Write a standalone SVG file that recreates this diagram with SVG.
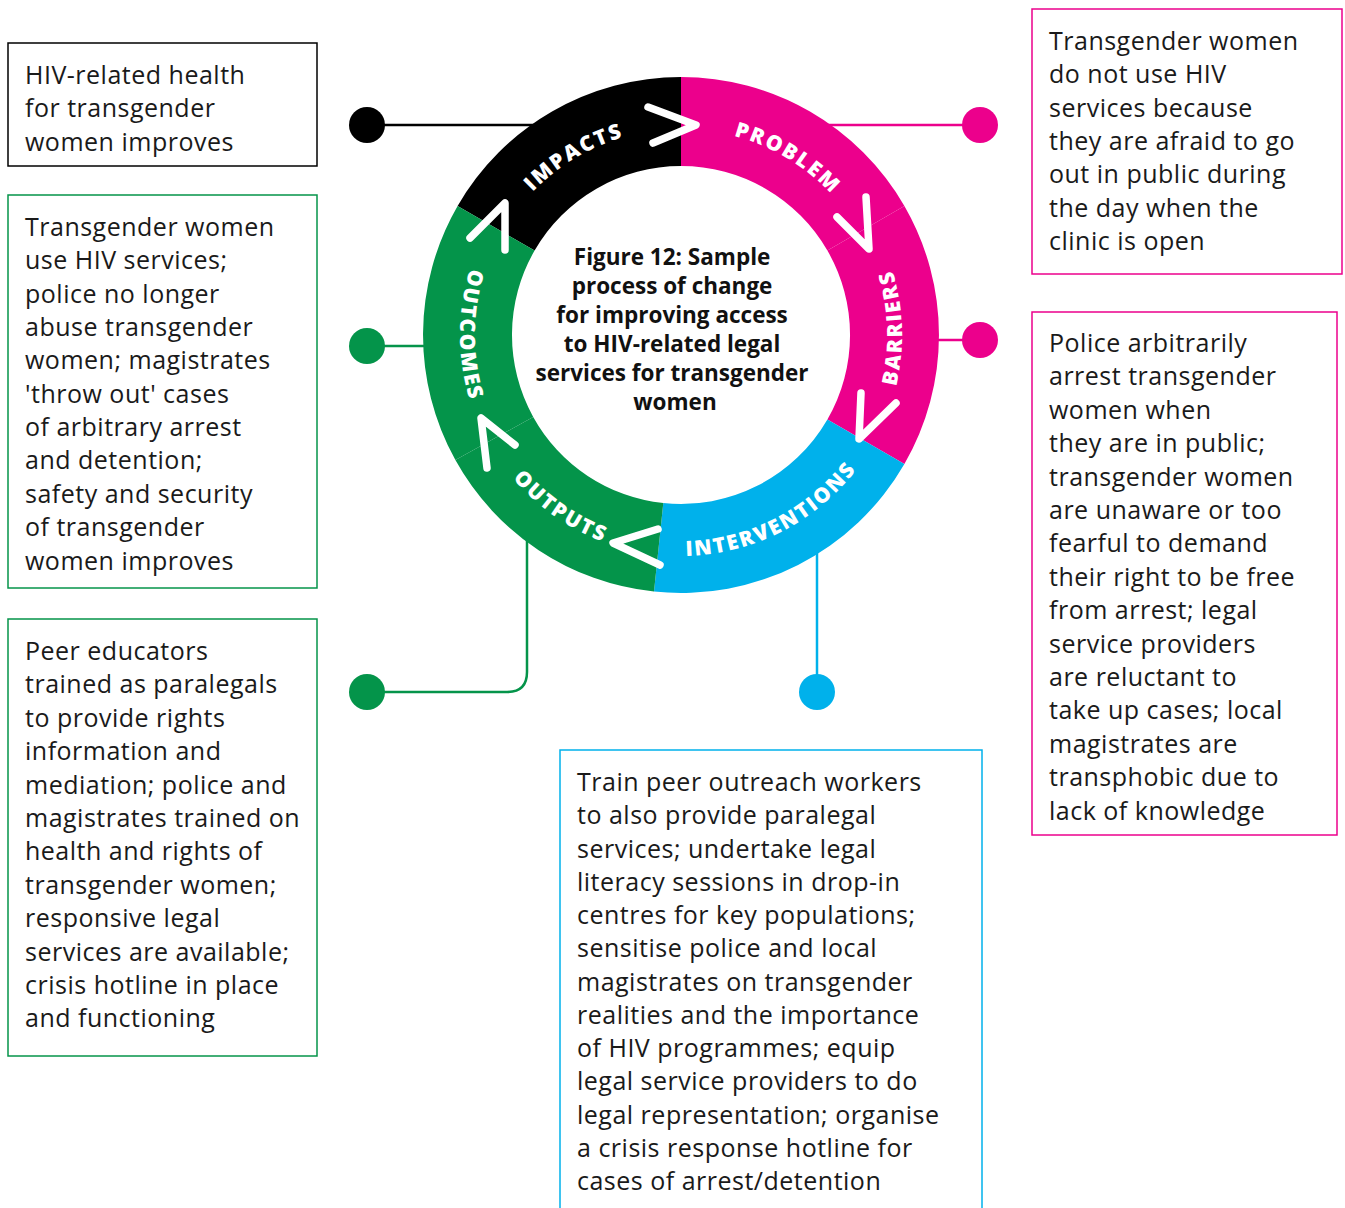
<svg xmlns="http://www.w3.org/2000/svg" width="1345" height="1208" viewBox="0 0 1345 1208">
<style>
.body{font-family:"Open Sans","Liberation Sans",sans-serif;font-size:25px;letter-spacing:0.5px;fill:#1a1a1a}
.title{font-family:"Open Sans","Liberation Sans",sans-serif;font-size:22.5px;font-weight:700;fill:#111;text-anchor:middle}
.lbl{font-family:"Open Sans","Liberation Sans",sans-serif;font-size:21px;font-weight:800;fill:#fff;letter-spacing:2px;text-anchor:middle}
.box{fill:#fff;stroke-width:1.5}
.chev{fill:none;stroke:#fff;stroke-width:7.5;stroke-linecap:round;stroke-linejoin:round}
.conn{fill:none;stroke-width:2.5}
</style>
<defs>
<path id="pImp" d="M486.2,267.9 A206,206 0 0 1 713.2,131.5"/>
<path id="pProb" d="M648.8,131.5 A206,206 0 0 1 875.8,267.9"/>
<path id="pBar" d="M855.2,471.1 A221,221 0 0 0 845.2,187.1"/>
<path id="pInt" d="M631.3,550.3 A221,221 0 0 0 884.4,421.3"/>
<path id="pOutp" d="M467.5,392.2 A221,221 0 0 0 700.3,555.2"/>
<path id="pOutc" d="M511.7,192.9 A221,221 0 0 0 511.7,477.1"/>
</defs>
<rect width="1345" height="1208" fill="#fff"/>

<g id="connectors">
<line class="conn" x1="367" y1="125" x2="560" y2="125" stroke="#000"/>
<circle cx="367" cy="125" r="18" fill="#000"/>
<line class="conn" x1="800" y1="125" x2="980" y2="125" stroke="#EC008C"/>
<circle cx="980" cy="125" r="18" fill="#EC008C"/>
<line class="conn" x1="900" y1="340" x2="980" y2="340" stroke="#EC008C"/>
<circle cx="980" cy="340" r="18" fill="#EC008C"/>
<line class="conn" x1="367" y1="346" x2="460" y2="346" stroke="#04944A"/>
<circle cx="367" cy="346" r="18" fill="#04944A"/>
<path class="conn" d="M367,692 H507 Q527,692 527,672 V520" stroke="#04944A"/>
<circle cx="367" cy="692" r="18" fill="#04944A"/>
<path class="conn" d="M817,500 V692" stroke="#00B1EB"/>
<circle cx="817" cy="692" r="18" fill="#00B1EB"/>
</g>

<g id="ring">
<path id="seg-impacts" fill="#000" d="M457.6,206.0 A258,258 0 0 1 681,77 L681,166 A169,169 0 0 0 534.6,250.5 Z"/>
<path id="seg-problem" fill="#EC008C" d="M681,77 A258,258 0 0 1 904.4,206.0 L827.4,250.5 A169,169 0 0 0 681,166 Z"/>
<path id="seg-barriers" fill="#EC008C" d="M904.4,206.0 A258,258 0 0 1 904.4,464.0 L827.4,419.5 A169,169 0 0 0 827.4,250.5 Z"/>
<path id="seg-interventions" fill="#00B1EB" d="M904.4,464.0 A258,258 0 0 1 654.0,591.6 L663.3,503.1 A169,169 0 0 0 827.4,419.5 Z"/>
<path id="seg-outputs" fill="#04944A" d="M654.0,591.6 A258,258 0 0 1 455.4,460.1 L533.2,416.9 A169,169 0 0 0 663.3,503.1 Z"/>
<path id="seg-outcomes" fill="#04944A" d="M455.4,460.1 A258,258 0 0 1 457.6,206.0 L534.6,250.5 A169,169 0 0 0 533.2,416.9 Z"/>
<text class="lbl"><textPath href="#pImp" startOffset="50%">IMPACTS</textPath></text>
<text class="lbl"><textPath href="#pProb" startOffset="50%">PROBLEM</textPath></text>
<text class="lbl"><textPath href="#pBar" startOffset="50%">BARRIERS</textPath></text>
<text class="lbl"><textPath href="#pInt" startOffset="50%">INTERVENTIONS</textPath></text>
<text class="lbl"><textPath href="#pOutp" startOffset="50%">OUTPUTS</textPath></text>
<text class="lbl"><textPath href="#pOutc" startOffset="50%">OUTCOMES</textPath></text>
<polyline class="chev" points="648,107 696,125 653,143"/>
<polyline class="chev" points="866,197 869,249 837,217"/>
<polyline class="chev" points="861,393 859,439 896,403"/>
<polyline class="chev" points="658,529 613,543 660,565"/>
<polyline class="chev" points="515,445 481,418 487,468"/>
<polyline class="chev" points="470,238 505,203 505,250"/>
</g>

<g id="title">
<text class="title" x="675">
<tspan x="675" y="265">Figure 12: Sample</tspan>
<tspan x="675" y="294">process of change</tspan>
<tspan x="675" y="323">for improving access</tspan>
<tspan x="675" y="352">to HIV-related legal</tspan>
<tspan x="675" y="381">services for transgender</tspan>
<tspan x="675" y="410">women</tspan>
</text>
</g>

<g id="node-impacts">
<rect class="box" x="8" y="43" width="309" height="123" stroke="#000"/>
<text class="body"><tspan x="25" y="84">HIV-related health</tspan><tspan x="25" dy="33.4">for transgender</tspan><tspan x="25" dy="33.4">women improves</tspan></text>
</g>

<g id="node-outcomes">
<rect class="box" x="8" y="195" width="309" height="393" stroke="#04944A"/>
<text class="body"><tspan x="25" y="236">Transgender women</tspan><tspan x="25" dy="33.35">use HIV services;</tspan><tspan x="25" dy="33.35">police no longer</tspan><tspan x="25" dy="33.35">abuse transgender</tspan><tspan x="25" dy="33.35">women; magistrates</tspan><tspan x="25" dy="33.35">'throw out' cases</tspan><tspan x="25" dy="33.35">of arbitrary arrest</tspan><tspan x="25" dy="33.35">and detention;</tspan><tspan x="25" dy="33.35">safety and security</tspan><tspan x="25" dy="33.35">of transgender</tspan><tspan x="25" dy="33.35">women improves</tspan></text>
</g>

<g id="node-outputs">
<rect class="box" x="8" y="619" width="309" height="437" stroke="#04944A"/>
<text class="body"><tspan x="25" y="660">Peer educators</tspan><tspan x="25" dy="33.4">trained as paralegals</tspan><tspan x="25" dy="33.4">to provide rights</tspan><tspan x="25" dy="33.4">information and</tspan><tspan x="25" dy="33.4">mediation; police and</tspan><tspan x="25" dy="33.4">magistrates trained on</tspan><tspan x="25" dy="33.4">health and rights of</tspan><tspan x="25" dy="33.4">transgender women;</tspan><tspan x="25" dy="33.4">responsive legal</tspan><tspan x="25" dy="33.4">services are available;</tspan><tspan x="25" dy="33.4">crisis hotline in place</tspan><tspan x="25" dy="33.4">and functioning</tspan></text>
</g>

<g id="node-problem">
<rect class="box" x="1032" y="9" width="310" height="265" stroke="#EC008C"/>
<text class="body"><tspan x="1049" y="50">Transgender women</tspan><tspan x="1049" dy="33.35">do not use HIV</tspan><tspan x="1049" dy="33.35">services because</tspan><tspan x="1049" dy="33.35">they are afraid to go</tspan><tspan x="1049" dy="33.35">out in public during</tspan><tspan x="1049" dy="33.35">the day when the</tspan><tspan x="1049" dy="33.35">clinic is open</tspan></text>
</g>

<g id="node-barriers">
<rect class="box" x="1032" y="312" width="305" height="523" stroke="#EC008C"/>
<text class="body"><tspan x="1049" y="352">Police arbitrarily</tspan><tspan x="1049" dy="33.4">arrest transgender</tspan><tspan x="1049" dy="33.4">women when</tspan><tspan x="1049" dy="33.4">they are in public;</tspan><tspan x="1049" dy="33.4">transgender women</tspan><tspan x="1049" dy="33.4">are unaware or too</tspan><tspan x="1049" dy="33.4">fearful to demand</tspan><tspan x="1049" dy="33.4">their right to be free</tspan><tspan x="1049" dy="33.4">from arrest; legal</tspan><tspan x="1049" dy="33.4">service providers</tspan><tspan x="1049" dy="33.4">are reluctant to</tspan><tspan x="1049" dy="33.4">take up cases; local</tspan><tspan x="1049" dy="33.4">magistrates are</tspan><tspan x="1049" dy="33.4">transphobic due to</tspan><tspan x="1049" dy="33.4">lack of knowledge</tspan></text>
</g>

<g id="node-interventions">
<rect class="box" x="560" y="750" width="422" height="480" stroke="#00B1EB"/>
<text class="body"><tspan x="577" y="791">Train peer outreach workers</tspan><tspan x="577" dy="33.25">to also provide paralegal</tspan><tspan x="577" dy="33.25">services; undertake legal</tspan><tspan x="577" dy="33.25">literacy sessions in drop-in</tspan><tspan x="577" dy="33.25">centres for key populations;</tspan><tspan x="577" dy="33.25">sensitise police and local</tspan><tspan x="577" dy="33.25">magistrates on transgender</tspan><tspan x="577" dy="33.25">realities and the importance</tspan><tspan x="577" dy="33.25">of HIV programmes; equip</tspan><tspan x="577" dy="33.25">legal service providers to do</tspan><tspan x="577" dy="33.25">legal representation; organise</tspan><tspan x="577" dy="33.25">a crisis response hotline for</tspan><tspan x="577" dy="33.25">cases of arrest/detention</tspan></text>
</g>
</svg>
